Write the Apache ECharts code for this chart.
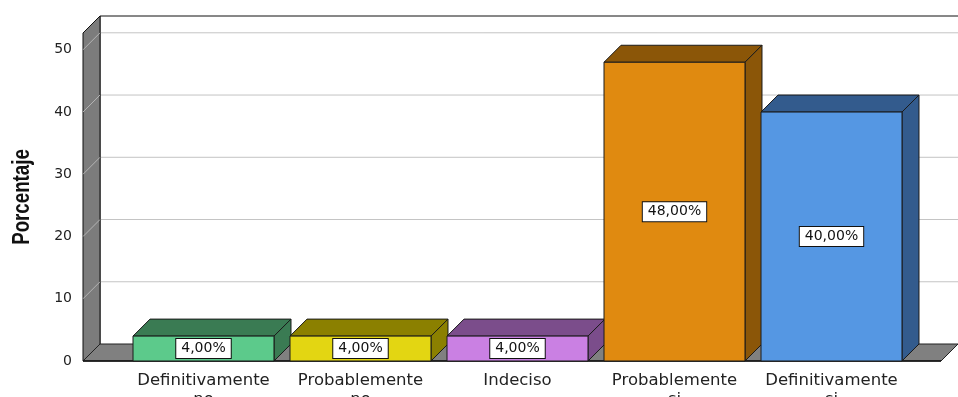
<!DOCTYPE html>
<html>
<head>
<meta charset="utf-8">
<script src="https://cdn.jsdelivr.net/npm/echarts@6/dist/echarts.min.js"></script>
<style>
  html, body { margin: 0; padding: 0; background: #ffffff; }
  #chart { width: 958px; height: 397px; }
</style>
</head>
<body>
<div id="chart"></div>
<script>
// Survey answers and their share of respondents (%)
const categories = ['Definitivamente\nno', 'Probablemente\nno', 'Indeciso', 'Probablemente\nsi', 'Definitivamente\nsi'];
const percentages = [4, 4, 4, 48, 40];
const frontColors = ['#5cca8b', '#e3d612', '#ca80e3', '#e08a10', '#5597e3'];
const shadeColors = ['#3a7b53', '#8b8000', '#7b4d8b', '#8b5608', '#335b8d'];
const yMax = 52.7;
const yStep = 10;
const yTitle = 'Porcentaje';

// 3D depth offset of the box (pixels)
const DX = 17, DY = 17;
const FONT = '"DejaVu Sans", sans-serif';

const chart = echarts.init(document.getElementById('chart'));

// Walls, floor and the back grid lines of the 3D box
function renderFrame(params, api) {
  const cs = params.coordSys;
  const L = cs.x - 42;
  const R = cs.x + cs.width + 31;
  const base = api.coord([0, 0])[1];
  const top = api.coord([0, yMax])[1];
  const children = [];
  // back wall
  children.push({
    type: 'rect',
    shape: { x: L + DX, y: top - DY, width: R - L, height: base - top },
    style: { fill: '#ffffff', stroke: null }
  });
  for (let v = yStep; v < yMax; v += yStep) {
    const y = api.coord([0, v])[1];
    children.push({
      type: 'line',
      shape: { x1: L + DX, y1: y - DY, x2: R + DX, y2: y - DY },
      style: { stroke: '#c4c4c4', lineWidth: 1 }
    });
  }
  children.push({
    type: 'polyline',
    shape: { points: [[L + DX, base - DY], [L + DX, top - DY], [R + DX, top - DY]] },
    style: { stroke: '#111111', lineWidth: 1, fill: null }
  });
  // left wall
  children.push({
    type: 'polygon',
    shape: { points: [[L, top], [L + DX, top - DY], [L + DX, base - DY], [L, base]] },
    style: { fill: '#7c7c7c', stroke: '#111111', lineWidth: 1 }
  });
  for (let v = yStep; v < yMax; v += yStep) {
    const y = api.coord([0, v])[1];
    children.push({
      type: 'line',
      shape: { x1: L, y1: y, x2: L + DX, y2: y - DY },
      style: { stroke: '#b4b4b4', lineWidth: 1 }
    });
  }
  // floor
  children.push({
    type: 'polygon',
    shape: { points: [[L, base], [L + DX, base - DY], [R + DX, base - DY], [R, base]] },
    style: { fill: '#808080', stroke: '#222222', lineWidth: 1 }
  });
  children.push({
    type: 'line',
    shape: { x1: L, y1: base, x2: R, y2: base },
    style: { stroke: '#111111', lineWidth: 1.5 }
  });
  return { type: 'group', children: children };
}

// One 3D box per answer, with its value label on the front face
function renderBar(params, api) {
  const idx = params.dataIndex;
  const value = api.value(1);
  const p0 = api.coord([api.value(0), 0]);
  const p1 = api.coord([api.value(0), value]);
  const w = api.size([1, 0])[0] * 0.898;
  const x0 = p0[0] - w / 2, x1 = p0[0] + w / 2;
  const yb = p0[1], yt = p1[1];
  const edge = { stroke: '#1a1a1a', lineWidth: 1 };
  return {
    type: 'group',
    children: [
      {
        type: 'polygon',
        shape: { points: [[x0, yt], [x0 + DX, yt - DY], [x1 + DX, yt - DY], [x1, yt]] },
        style: Object.assign({ fill: shadeColors[idx] }, edge)
      },
      {
        type: 'polygon',
        shape: { points: [[x1, yt], [x1 + DX, yt - DY], [x1 + DX, yb - DY], [x1, yb]] },
        style: Object.assign({ fill: shadeColors[idx] }, edge)
      },
      {
        type: 'rect',
        shape: { x: x0, y: yt, width: w, height: yb - yt },
        style: Object.assign({ fill: frontColors[idx] }, edge)
      },
      {
        type: 'text',
        x: p0[0],
        y: (yt + yb) / 2,
        style: {
          text: value.toFixed(2).replace('.', ',') + '%',
          align: 'center',
          verticalAlign: 'middle',
          font: '14px ' + FONT,
          fill: '#111111',
          backgroundColor: '#ffffff',
          borderColor: '#111111',
          borderWidth: 1,
          padding: [3, 5, 2, 5]
        }
      }
    ]
  };
}

chart.setOption({
  animation: false,
  backgroundColor: '#ffffff',
  grid: { left: 125, right: 48, top: 33, bottom: 36, containLabel: false, outerBoundsMode: 'none' },
  // condensed bold axis title, drawn rotated beside the value axis
  graphic: [{
    type: 'text',
    x: 22,
    y: 197,
    rotation: Math.PI / 2,
    scaleX: 0.78,
    style: {
      text: yTitle,
      align: 'center',
      verticalAlign: 'middle',
      font: 'bold 24px "Liberation Sans", Arial, sans-serif',
      fill: '#111111'
    }
  }],
  xAxis: {
    type: 'category',
    data: categories,
    axisLine: { show: false },
    axisTick: { show: false },
    axisLabel: {
      margin: 10,
      interval: 0,
      fontFamily: FONT,
      fontSize: 16.5,
      lineHeight: 19,
      color: '#222222'
    }
  },
  yAxis: {
    type: 'value',
    min: 0,
    max: yMax,
    interval: yStep,
    axisLine: { show: false },
    axisTick: { show: false },
    splitLine: { show: false },
    axisLabel: {
      margin: 53,
      fontFamily: FONT,
      fontSize: 14,
      color: '#222222',
      formatter: v => (v % yStep === 0 ? String(v) : '')
    }
  },
  series: [
    {
      type: 'custom',
      z: 1,
      clip: false,
      silent: true,
      renderItem: renderFrame,
      data: [[0, 0]]
    },
    {
      type: 'custom',
      z: 2,
      clip: false,
      renderItem: renderBar,
      encode: { x: 0, y: 1 },
      data: percentages.map((v, i) => [i, v])
    }
  ]
});
</script>
</body>
</html>
